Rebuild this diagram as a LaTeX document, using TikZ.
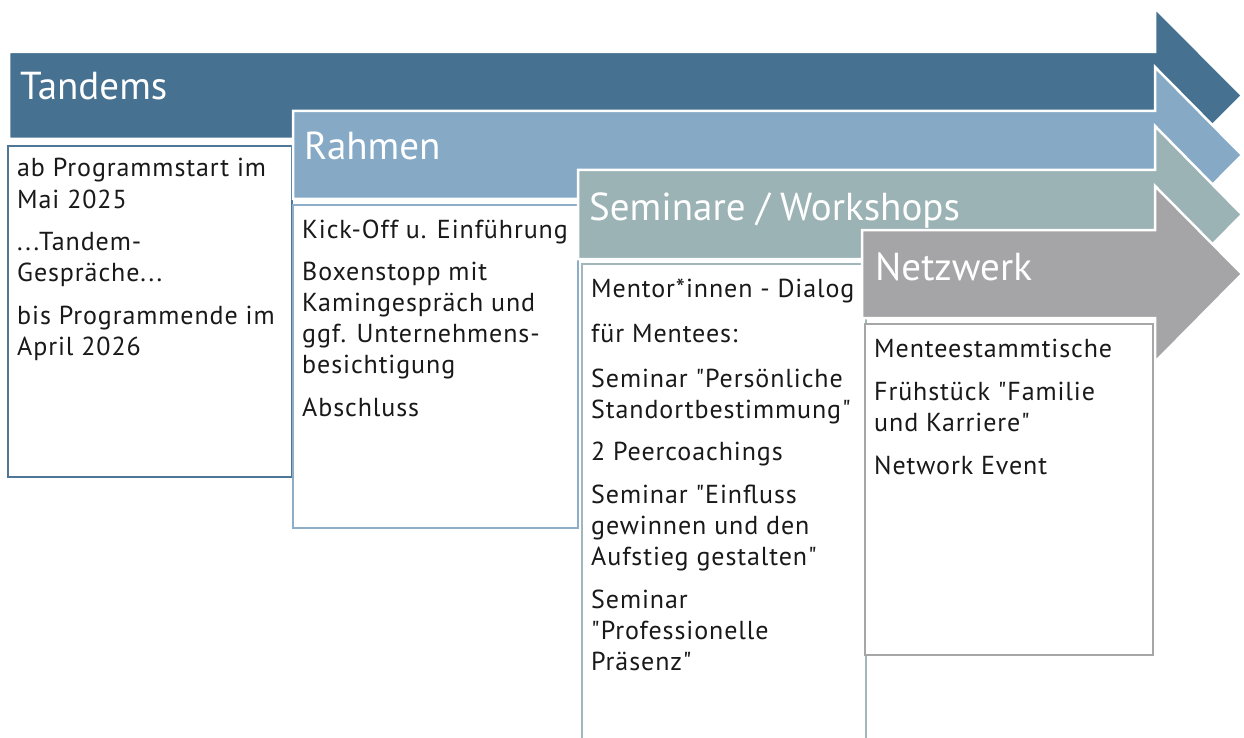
\documentclass[tikz,border=0pt]{standalone}
\usepackage{fontspec}
\setmainfont{PT Sans}[Ligatures=TeXOff]
\newfontfamily\bodyfont{PT Sans}[Ligatures=TeXOff, LetterSpace=3.5]
\definecolor{cA}{RGB}{70,113,144}
\definecolor{cB}{RGB}{134,170,198}
\definecolor{cC}{RGB}{155,179,181}
\definecolor{cD}{RGB}{165,165,167}
\definecolor{bA}{RGB}{78,118,150}
\definecolor{bB}{RGB}{141,174,198}
\definecolor{bC}{RGB}{160,184,186}
\definecolor{bD}{RGB}{166,166,166}
\definecolor{textc}{RGB}{25,25,25}
\newcommand\stagearrow[4]{%
  \path[arrowshape=#4] (#1,#2) -- (1155,#2) -- (1155,#2-44) -- (1242,{(#2+#3)/2})
    -- (1155,#3+44) -- (1155,#3) -- (#1,#3) -- cycle;}
\begin{document}
\begin{tikzpicture}[x=1pt,y=-1pt,
  arrowshape/.style={fill=#1, draw=white, line width=2.5pt, line join=miter},
  titletext/.style={anchor=base west, text=white, inner sep=0pt,
    font=\fontsize{39}{47}\selectfont},
  item/.style={anchor=base west, text=textc, inner sep=0pt,
    font=\bodyfont\fontsize{26}{31}\selectfont},
  panel/.style={fill=white, draw=#1, line width=2pt}]
\useasboundingbox (0,0) rectangle (1244,738);
\clip (0,0) rectangle (1244,738);

% stage 1
\stagearrow{9}{52}{139}{cA}
\node[titletext] (t1) at (20,100) {Tandems};
\path[panel=bA] (8,146) rectangle (292,477);
\node[item] (a1) at (17,177) {ab Programmstart im};
\node[item] (a2) at (17,208) {Mai 2025};
\node[item] (a3) at (17,250) {...Tandem-};
\node[item] (a4) at (17,281) {Gespräche...};
\node[item] (a5) at (17,324) {bis Programmende im};
\node[item] (a6) at (17,355) {April 2026};

% stage 2
\stagearrow{293}{111}{199}{cB}
\node[titletext] (t2) at (304,160) {Rahmen};
\path[panel=bB] (293,205) rectangle (578,528);
\node[item] (b1) at (302,238) {Kick-Off u. Einführung};
\node[item] (b2) at (302,280) {Boxenstopp mit};
\node[item] (b3) at (302,311) {Kamingespräch und};
\node[item] (b4) at (302,342) {ggf. Unternehmens-};
\node[item] (b5) at (302,373) {besichtigung};
\node[item] (b6) at (302,416) {Abschluss};

% stage 3
\stagearrow{578}{170}{259}{cC}
\node[titletext] (t3) at (589,220) {Seminare / Workshops};
\path[panel=bC] (582,264) rectangle (866,760);
\node[item] (c1) at (591,297) {Mentor*innen - Dialog};
\node[item] (c2) at (591,342) {für Mentees:};
\node[item] (c3) at (591,387) {Seminar "Persönliche};
\node[item] (c4) at (591,418) {Standortbestimmung"};
\node[item] (c5) at (591,460) {2 Peercoachings};
\node[item] (c6) at (591,503) {Seminar "Einfluss};
\node[item] (c7) at (591,534) {gewinnen und den};
\node[item] (c8) at (591,565) {Aufstieg gestalten"};
\node[item] (c9) at (591,608) {Seminar};
\node[item] (c10) at (591,639) {"Professionelle};
\node[item] (c11) at (591,670) {Präsenz"};

% stage 4
\stagearrow{862}{230}{318}{cD}
\node[titletext] (t4) at (875,280) {Netzwerk};
\path[panel=bD] (865,324) rectangle (1153,655);
\node[item] (d1) at (874,357) {Menteestammtische};
\node[item] (d2) at (874,400) {Frühstück "Familie};
\node[item] (d3) at (874,431) {und Karriere"};
\node[item] (d4) at (874,474) {Network Event};
\end{tikzpicture}
\end{document}
